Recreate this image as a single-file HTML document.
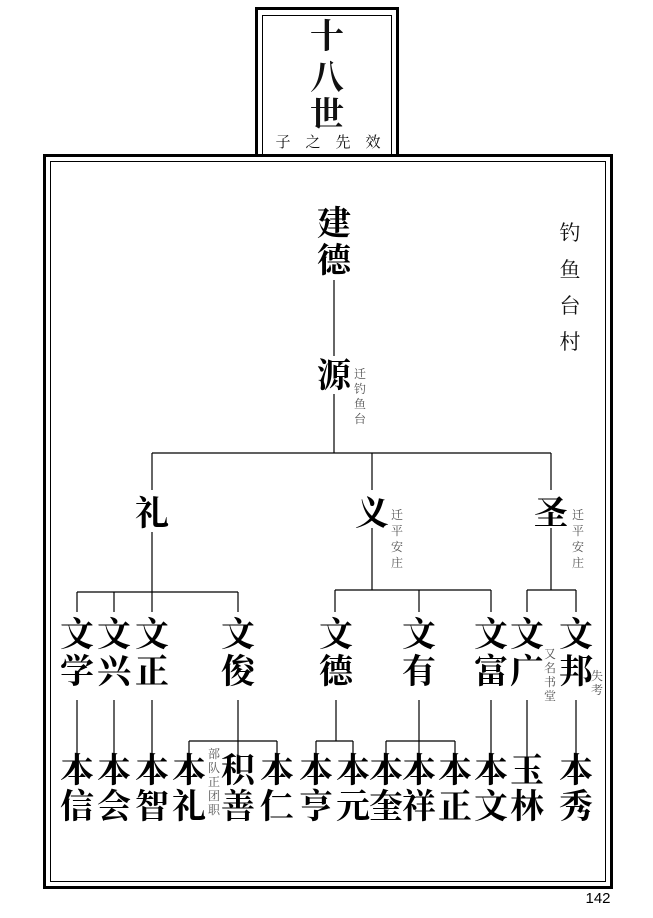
<!DOCTYPE html>
<html><head><meta charset="utf-8"><style>
html,body{margin:0;padding:0;background:#fff;}
svg{display:block;}
.b{font-family:"Liberation Serif","Noto Serif CJK SC",serif;font-weight:700;fill:#000;text-anchor:middle;}
.s{font-family:"Liberation Serif","Noto Serif CJK SC",serif;fill:#555;text-anchor:middle;font-size:12px;}
.m{font-family:"Liberation Serif","Noto Serif CJK SC",serif;fill:#111;text-anchor:middle;}
</style></head><body>
<svg width="653" height="918" viewBox="0 0 653 918" xmlns="http://www.w3.org/2000/svg">
<!-- title box -->
<rect x="256.5" y="8.5" width="141" height="150" fill="#fff" stroke="#000" stroke-width="3"/>
<rect x="262.5" y="15.5" width="129" height="143" fill="none" stroke="#000" stroke-width="1"/>
<text class="m" x="327" y="48" font-size="34" font-weight="700">十</text>
<text class="m" x="327" y="89" font-size="34" font-weight="700">八</text>
<text class="m" x="327" y="126" font-size="34" font-weight="700">世</text>
<text class="m" x="283" y="147" font-size="15">子</text>
<text class="m" x="313" y="147" font-size="15">之</text>
<text class="m" x="343" y="147" font-size="15">先</text>
<text class="m" x="373" y="147" font-size="15">效</text>
<!-- main box -->
<rect x="44.5" y="155.5" width="567" height="732" fill="#fff" stroke="#000" stroke-width="3"/>
<rect x="50.5" y="161.5" width="555" height="720" fill="none" stroke="#000" stroke-width="1"/>
<g stroke="#000" stroke-width="1.2" fill="none">
<path d="M334 280V356"/>
<path d="M334 394V453M152 453H551M152 453V490M372 453V490M551 453V490"/>
<path d="M152 532V592M77 592H238M77 592V612M114 592V612M152 592V612M238 592V612"/>
<path d="M372 528V590M335 590H491M335 590V612M419 590V612M491 590V612"/>
<path d="M551 528V590M527 590H576M527 590V612M576 590V612"/>
<path d="M77 700V762M114 700V762M152 700V762"/>
<path d="M238 700V741M189 741H277M189 741V762M238 741V762M277 741V762"/>
<path d="M336 700V741M316 741H353M316 741V762M353 741V762"/>
<path d="M419 700V741M386 741H455M386 741V762M419 741V762M455 741V762"/>
<path d="M491 700V762M527 700V762M576 700V762"/>
</g>
<text class="b" x="334" y="235" font-size="34">建</text>
<text class="b" x="334" y="272" font-size="34">德</text>
<text class="m" x="570" y="240" font-size="21">钓</text>
<text class="m" x="570" y="277" font-size="21">鱼</text>
<text class="m" x="570" y="313" font-size="21">台</text>
<text class="m" x="570" y="349" font-size="21">村</text>
<text class="b" x="334" y="387" font-size="34">源</text>
<text class="s" x="360" y="378">迁</text><text class="s" x="360" y="393">钓</text><text class="s" x="360" y="408">鱼</text><text class="s" x="360" y="423">台</text>
<text class="b" x="152" y="525" font-size="34">礼</text>
<text class="b" x="372" y="525" font-size="34">义</text>
<text class="b" x="551" y="525" font-size="34">圣</text>
<text class="s" x="397" y="519">迁</text><text class="s" x="397" y="535">平</text><text class="s" x="397" y="551">安</text><text class="s" x="397" y="567">庄</text>
<text class="s" x="578" y="519">迁</text><text class="s" x="578" y="535">平</text><text class="s" x="578" y="551">安</text><text class="s" x="578" y="567">庄</text>
<g class="b" font-size="34">
<text x="77" y="646">文</text><text x="77" y="683">学</text>
<text x="114" y="646">文</text><text x="114" y="683">兴</text>
<text x="152" y="646">文</text><text x="152" y="683">正</text>
<text x="238" y="646">文</text><text x="238" y="683">俊</text>
<text x="336" y="646">文</text><text x="336" y="683">德</text>
<text x="419" y="646">文</text><text x="419" y="683">有</text>
<text x="491" y="646">文</text><text x="491" y="683">富</text>
<text x="527" y="646">文</text><text x="527" y="683">广</text>
<text x="576" y="646">文</text><text x="576" y="683">邦</text>
</g>
<text class="s" x="550" y="658">又</text><text class="s" x="550" y="672">名</text><text class="s" x="550" y="686">书</text><text class="s" x="550" y="700">堂</text>
<text class="s" x="597" y="680">失</text><text class="s" x="597" y="694">考</text>
<g class="b" font-size="34">
<text x="77" y="782">本</text><text x="77" y="818">信</text>
<text x="114" y="782">本</text><text x="114" y="818">会</text>
<text x="152" y="782">本</text><text x="152" y="818">智</text>
<text x="189" y="782">本</text><text x="189" y="818">礼</text>
<text x="238" y="782">积</text><text x="238" y="818">善</text>
<text x="277" y="782">本</text><text x="277" y="818">仁</text>
<text x="316" y="782">本</text><text x="316" y="818">亨</text>
<text x="353" y="782">本</text><text x="353" y="818">元</text>
<text x="386" y="782">本</text><text x="386" y="818">奎</text>
<text x="419" y="782">本</text><text x="419" y="818">祥</text>
<text x="455" y="782">本</text><text x="455" y="818">正</text>
<text x="491" y="782">本</text><text x="491" y="818">文</text>
<text x="527" y="782">玉</text><text x="527" y="818">林</text>
<text x="576" y="782">本</text><text x="576" y="818">秀</text>
</g>
<text class="s" x="214" y="758">部</text><text class="s" x="214" y="772">队</text><text class="s" x="214" y="786">正</text><text class="s" x="214" y="800">团</text><text class="s" x="214" y="814">职</text>
<text x="598" y="903" font-family="Liberation Sans, sans-serif" font-size="15" text-anchor="middle" fill="#000">142</text>
</svg>
</body></html>
